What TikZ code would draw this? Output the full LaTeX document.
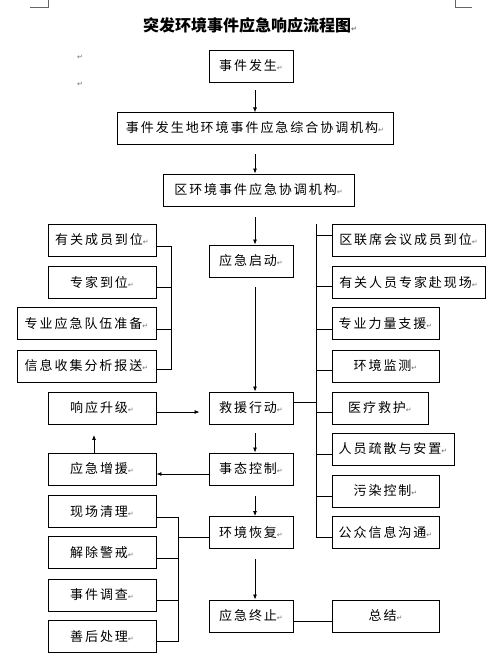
\documentclass[tikz,border=0pt]{standalone}
\usepackage{fontspec}
\usetikzlibrary{arrows.meta,calc}
\newfontfamily\cjk[LetterSpace=15]{Noto Sans CJK SC}
\newfontfamily\cjkt{Noto Sans CJK SC}
\newfontfamily\dvs{DejaVu Sans}
\newcommand\retmk{{\dvs\fontsize{7}{7}\selectfont\color{black!55}↵}}
\tikzset{
  bx/.style={draw, line width=0.9pt, inner sep=0pt, minimum height=32pt,
    font=\cjk\fontsize{13}{15}\selectfont, text=black},
  arr/.style={line width=0.8pt, -{Latex[length=5pt,width=4pt]}},
  ln/.style={line width=0.8pt},
  mk/.style={inner sep=0pt, font=\dvs\fontsize{7}{7}\selectfont, text=black!55}
}
\begin{document}
\begin{tikzpicture}[x=1pt,y=-1pt]
\fill[white] (0,0) rectangle (500,666);
\useasboundingbox (0,0) rectangle (500,666);
% page corner marks
\draw[line width=0.6pt, black!60] (30,7) -- (48,7) -- (48,0);
\draw[line width=0.6pt, black!60] (472,7) -- (455,7) -- (455,0);
% title
\node[inner sep=0pt, font=\cjkt\bfseries\fontsize{16}{18}\selectfont] (title) at (250,25) {突发环境事件应急响应流程图\retmk};
\node[mk] (m1) at (80,57) {↵};
\node[mk] (m2) at (80,84) {↵};
% central column
\node[bx, minimum width=84pt] (A) at (251,66) {事件发生\retmk};
\node[bx, minimum width=276pt] (B) at (255,128) {事件发生地环境事件应急综合协调机构\retmk};
\node[bx, minimum width=191pt] (C) at (258.5,190) {区环境事件应急协调机构\retmk};
\node[bx, minimum width=84pt] (D) at (251,261) {应急启动\retmk};
\node[bx, minimum width=84pt] (E) at (251,408) {救援行动\retmk};
\node[bx, minimum width=84pt] (F) at (251,469) {事态控制\retmk};
\node[bx, minimum width=84pt] (G) at (251,532.5) {环境恢复\retmk};
\node[bx, minimum width=84pt] (H) at (251,616) {应急终止\retmk};
% left column
\node[bx, minimum width=108pt] (L1) at (102,240) {有关成员到位\retmk};
\node[bx, minimum width=108pt] (L2) at (102,282.5) {专家到位\retmk};
\node[bx, minimum width=139pt] (L3) at (86.5,323.5) {专业应急队伍准备\retmk};
\node[bx, minimum width=139pt] (L4) at (86.5,366) {信息收集分析报送\retmk};
\node[bx, minimum width=108pt] (L5) at (102,408) {响应升级\retmk};
\node[bx, minimum width=108pt] (L6) at (102,469) {应急增援\retmk};
\node[bx, minimum width=108pt] (L7) at (102,511.5) {现场清理\retmk};
\node[bx, minimum width=108pt] (L8) at (102,552.5) {解除警戒\retmk};
\node[bx, minimum width=108pt] (L9) at (102,595) {事件调查\retmk};
\node[bx, minimum width=108pt] (L10) at (102,636.5) {善后处理\retmk};
% right column
\node[bx, minimum width=153pt] (R1) at (408.5,240) {区联席会议成员到位\retmk};
\node[bx, minimum width=153pt] (R2) at (408.5,282.5) {有关人员专家赴现场\retmk};
\node[bx, minimum width=107pt] (R3) at (385.5,323.5) {专业力量支援\retmk};
\node[bx, minimum width=107pt] (R4) at (385.5,366) {环境监测\retmk};
\node[bx, minimum width=96pt] (R5) at (380,408) {医疗救护\retmk};
\node[bx, minimum width=122pt] (R6) at (393,449) {人员疏散与安置\retmk};
\node[bx, minimum width=107pt] (R7) at (385.5,491) {污染控制\retmk};
\node[bx, minimum width=107pt] (R8) at (385.5,532.5) {公众信息沟通\retmk};
\node[bx, minimum width=107pt] (R9) at (385.5,616) {总结\retmk};
% central arrows (x = 255)
\draw[arr] ($(A.south)+(4,8)$) -- ($(A.south -| B.north)+(0,30)$);
\draw[arr] ($(B.south)+(0,10)$) -- (B.south |- C.north);
\draw[arr] ($(C.south -| B.south)+(0,11)$) -- (B.south |- D.north);
\draw[arr] ($(D.south -| B.south)+(0,10)$) -- (B.south |- E.north);
\draw[arr] ($(E.south -| B.south)+(0,9)$) -- (B.south |- F.north);
\draw[arr] ($(F.south -| B.south)+(0,11)$) -- (B.south |- G.north);
\draw[arr] ($(G.south -| B.south)+(0,10)$) -- (B.south |- H.north);
% side arrows
\draw[arr] ($(L5.east)+(0,4)$) -- ($(E.west |- L5.east)+(-9,4)$);
\draw[arr] ($(F.west)+(0,5)$) -- ($(L6.east)+(0,5)$);
\draw[arr] ($(L6.north)+(-8,0)$) -- ($(L5.south)+(-8,10.5)$);
% upper left bracket (x = 171)
\draw[ln] ($(L1.east)+(0,6)$) -- ($(L1.east)+(15,6)$) -- ($(L4.east)+(15,3)$) -- ($(L4.east)+(0,3)$);
\draw[ln] ($(L2.east)+(0,4.5)$) -- ($(L2.east)+(15,4.5)$);
\draw[ln] ($(L3.east)+(0,5.5)$) -- ($(L3.east)+(15,5.5)$);
% right bracket (x = 316)
\coordinate (rt) at (316,224);
\coordinate (rb) at (316,537);
\draw[ln] (rt) -- (rb);
\draw[ln] ($(E.east)+(0,-6)$) -- ($(E.east -| rt)+(0,-6)$);
\draw[ln] ($(R1.west)+(0,-5)$) -- ($(R1.west)+(-16,-5)$);
\draw[ln] ($(R2.west)+(0,3.5)$) -- ($(R2.west)+(-16,3.5)$);
\draw[ln] ($(R3.west)+(0,5.5)$) -- ($(R3.west)+(-16,5.5)$);
\draw[ln] ($(R4.west)+(0,4)$) -- ($(R4.west)+(-16,4)$);
\draw[ln] ($(R5.west)+(0,4.5)$) -- ($(R5.west)+(-16,4.5)$);
\draw[ln] ($(R6.west)+(0,5)$) -- ($(R6.west)+(-16,5)$);
\draw[ln] ($(R7.west)+(0,5)$) -- ($(R7.west)+(-16,5)$);
\draw[ln] ($(R8.west)+(0,4.5)$) -- ($(R8.west)+(-16,4.5)$);
% lower left bracket (x = 178)
\draw[ln] ($(L7.east)+(0,5.5)$) -- ($(L7.east)+(22,5.5)$) -- ($(L10.east)+(22,4.5)$) -- ($(L10.east)+(0,4.5)$);
\draw[ln] ($(L8.east)+(0,5.5)$) -- ($(L8.east)+(22,5.5)$);
\draw[ln] ($(L9.east)+(0,5)$) -- ($(L9.east)+(22,5)$);
\draw[ln] ($(G.west)+(0,4.5)$) -- ($(G.west)+(-31,4.5)$);
% end line
\draw[ln] ($(H.east)+(0,5)$) -- ($(R9.west)+(0,5)$);
\end{tikzpicture}
\end{document}
